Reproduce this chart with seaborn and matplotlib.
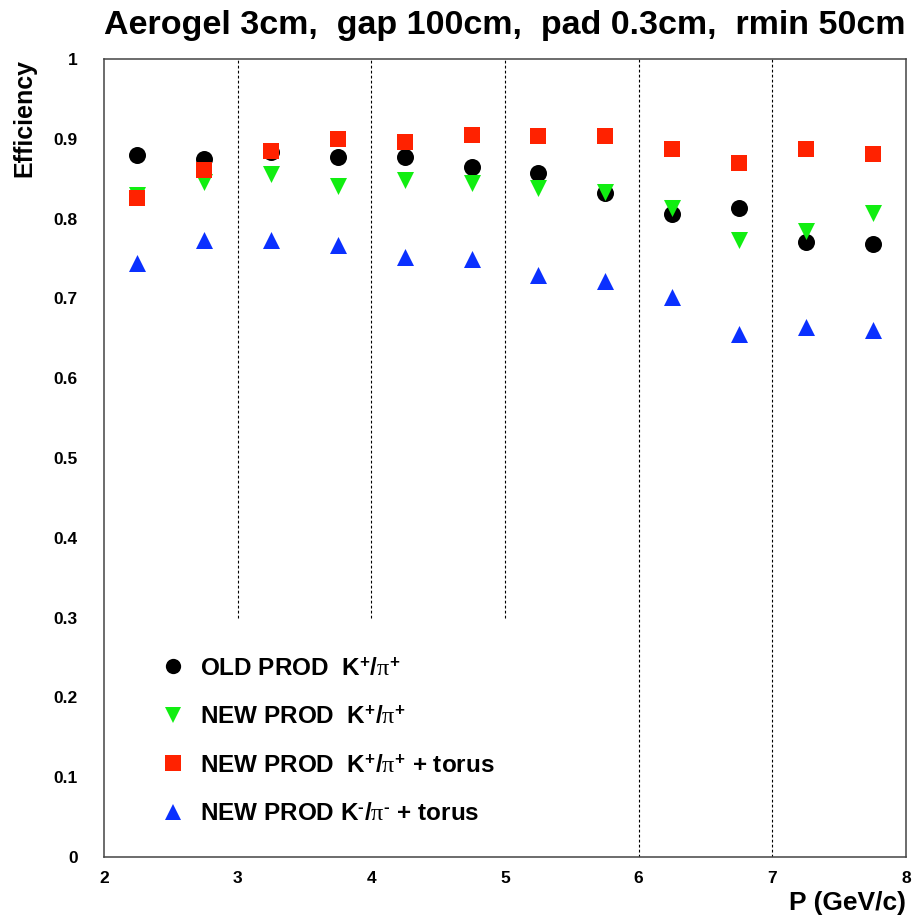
import matplotlib
matplotlib.use("Agg")
import matplotlib.pyplot as plt
import seaborn as sns
import pandas as pd
from matplotlib.ticker import MultipleLocator
from matplotlib.lines import Line2D

p_values = [2.25, 2.75, 3.25, 3.75, 4.25, 4.75, 5.25, 5.75, 6.25, 6.75, 7.25, 7.75]
old_kp = [0.880, 0.875, 0.883, 0.877, 0.877, 0.865, 0.857, 0.832, 0.806, 0.813, 0.771, 0.768]
new_kp = [0.829, 0.846, 0.856, 0.841, 0.848, 0.845, 0.838, 0.833, 0.813, 0.773, 0.784, 0.807]
new_kp_torus = [0.826, 0.861, 0.885, 0.900, 0.896, 0.905, 0.903, 0.903, 0.887, 0.870, 0.887, 0.881]
new_km_torus = [0.744, 0.773, 0.773, 0.767, 0.752, 0.749, 0.729, 0.722, 0.702, 0.655, 0.664, 0.660]

labels = [r"OLD PROD  K$^{+}$/$\pi^{+}$",
          r"NEW PROD  K$^{+}$/$\pi^{+}$",
          r"NEW PROD  K$^{+}$/$\pi^{+}$ + torus",
          r"NEW PROD K$^{\text{-}}$/$\pi^{\text{-}}$ + torus"]
title = "Aerogel 3cm,  gap 100cm,  pad 0.3cm,  rmin 50cm"
divider_full = [6, 7]
divider_partial = [3, 4, 5]

sns.set_style("white")
plt.rcParams['font.family'] = ['Liberation Sans', 'DejaVu Sans']
plt.rcParams['font.weight'] = 'bold'
plt.rcParams['text.color'] = 'black'
plt.rcParams['axes.labelcolor'] = 'black'
plt.rcParams['mathtext.fontset'] = 'custom'
plt.rcParams['mathtext.rm'] = 'Liberation Sans:bold'
plt.rcParams['mathtext.bf'] = 'Liberation Sans:bold'
plt.rcParams['mathtext.it'] = 'Liberation Serif:weight=normal'

fig = plt.figure(figsize=(9.17, 9.24), dpi=100)
ax = fig.add_axes([0.1134, 0.0725, 0.8746, 0.8636])

series = [
    (old_kp, 'o', 'black', 150),
    (new_kp, 'v', '#11ee11', 150),
    (new_kp_torus, 's', '#ff2200', 140),
    (new_km_torus, '^', '#0a30ff', 150),
]
handles = []
for (vals, mk, col, s), lab in zip(series, labels):
    df = pd.DataFrame({"P": p_values, "eff": vals})
    sns.scatterplot(data=df, x="P", y="eff", marker=mk, color=col, s=s,
                    linewidth=0, ax=ax, zorder=3)
    handles.append(Line2D([], [], marker=mk, color=col, linestyle='none',
                          markersize=11, markeredgewidth=0))

for x in divider_partial:
    ax.plot([x, x], [0.3, 1.0], color='black', lw=0.8, linestyle=(0, (2.5, 2)), zorder=1)
for x in divider_full:
    ax.plot([x, x], [0.0, 1.0], color='black', lw=0.8, linestyle=(0, (2.5, 2)), zorder=1)

ax.set_xlim(2, 8)
ax.set_ylim(0, 1)
ax.xaxis.set_minor_locator(MultipleLocator(0.2))
ax.yaxis.set_minor_locator(MultipleLocator(0.02))
ax.set_yticks([0, 0.1, 0.2, 0.3, 0.4, 0.5, 0.6, 0.7, 0.8, 0.9, 1.0])
ax.set_yticklabels(["0", "0.1", "0.2", "0.3", "0.4", "0.5", "0.6", "0.7", "0.8", "0.9", "1"])
ax.set_xticks([2, 3, 4, 5, 6, 7, 8])
ax.set_xticklabels(["2", "3", "4", "5", "6", "7", "8"])
ax.tick_params(axis='both', which='both', direction='in', colors='#333333',
               labelcolor='black', labelsize=12.5, top=False, right=False)
ax.tick_params(axis='x', which='major', length=12, width=1.1, pad=10)
ax.tick_params(axis='x', which='minor', length=6, width=1.1)
ax.tick_params(axis='y', which='major', length=11, width=1.1, pad=19)
ax.tick_params(axis='y', which='minor', length=6, width=1.1)
for lab in ax.get_xticklabels() + ax.get_yticklabels():
    lab.set_fontweight('bold')
for sp in ax.spines.values():
    sp.set_color('#444444')
    sp.set_linewidth(1.1)

ax.set_xlabel("P (GeV/c)", loc='right', fontsize=19, fontweight='bold', labelpad=4)
ax.set_ylabel("Efficiency", loc='top', fontsize=18, fontweight='bold', labelpad=12)
fig.text(0.987, 0.972, title, ha='right', va='center', fontsize=24.5, fontweight='bold')

leg = ax.legend(handles, labels, loc='upper left', bbox_to_anchor=(0.0587, 0.263),
                frameon=False, fontsize=17.5, handletextpad=0.6, labelspacing=1.05,
                handlelength=1.0, borderaxespad=0)
for t in leg.get_texts():
    t.set_fontweight('bold')

fig.savefig("out.png", dpi=100)
